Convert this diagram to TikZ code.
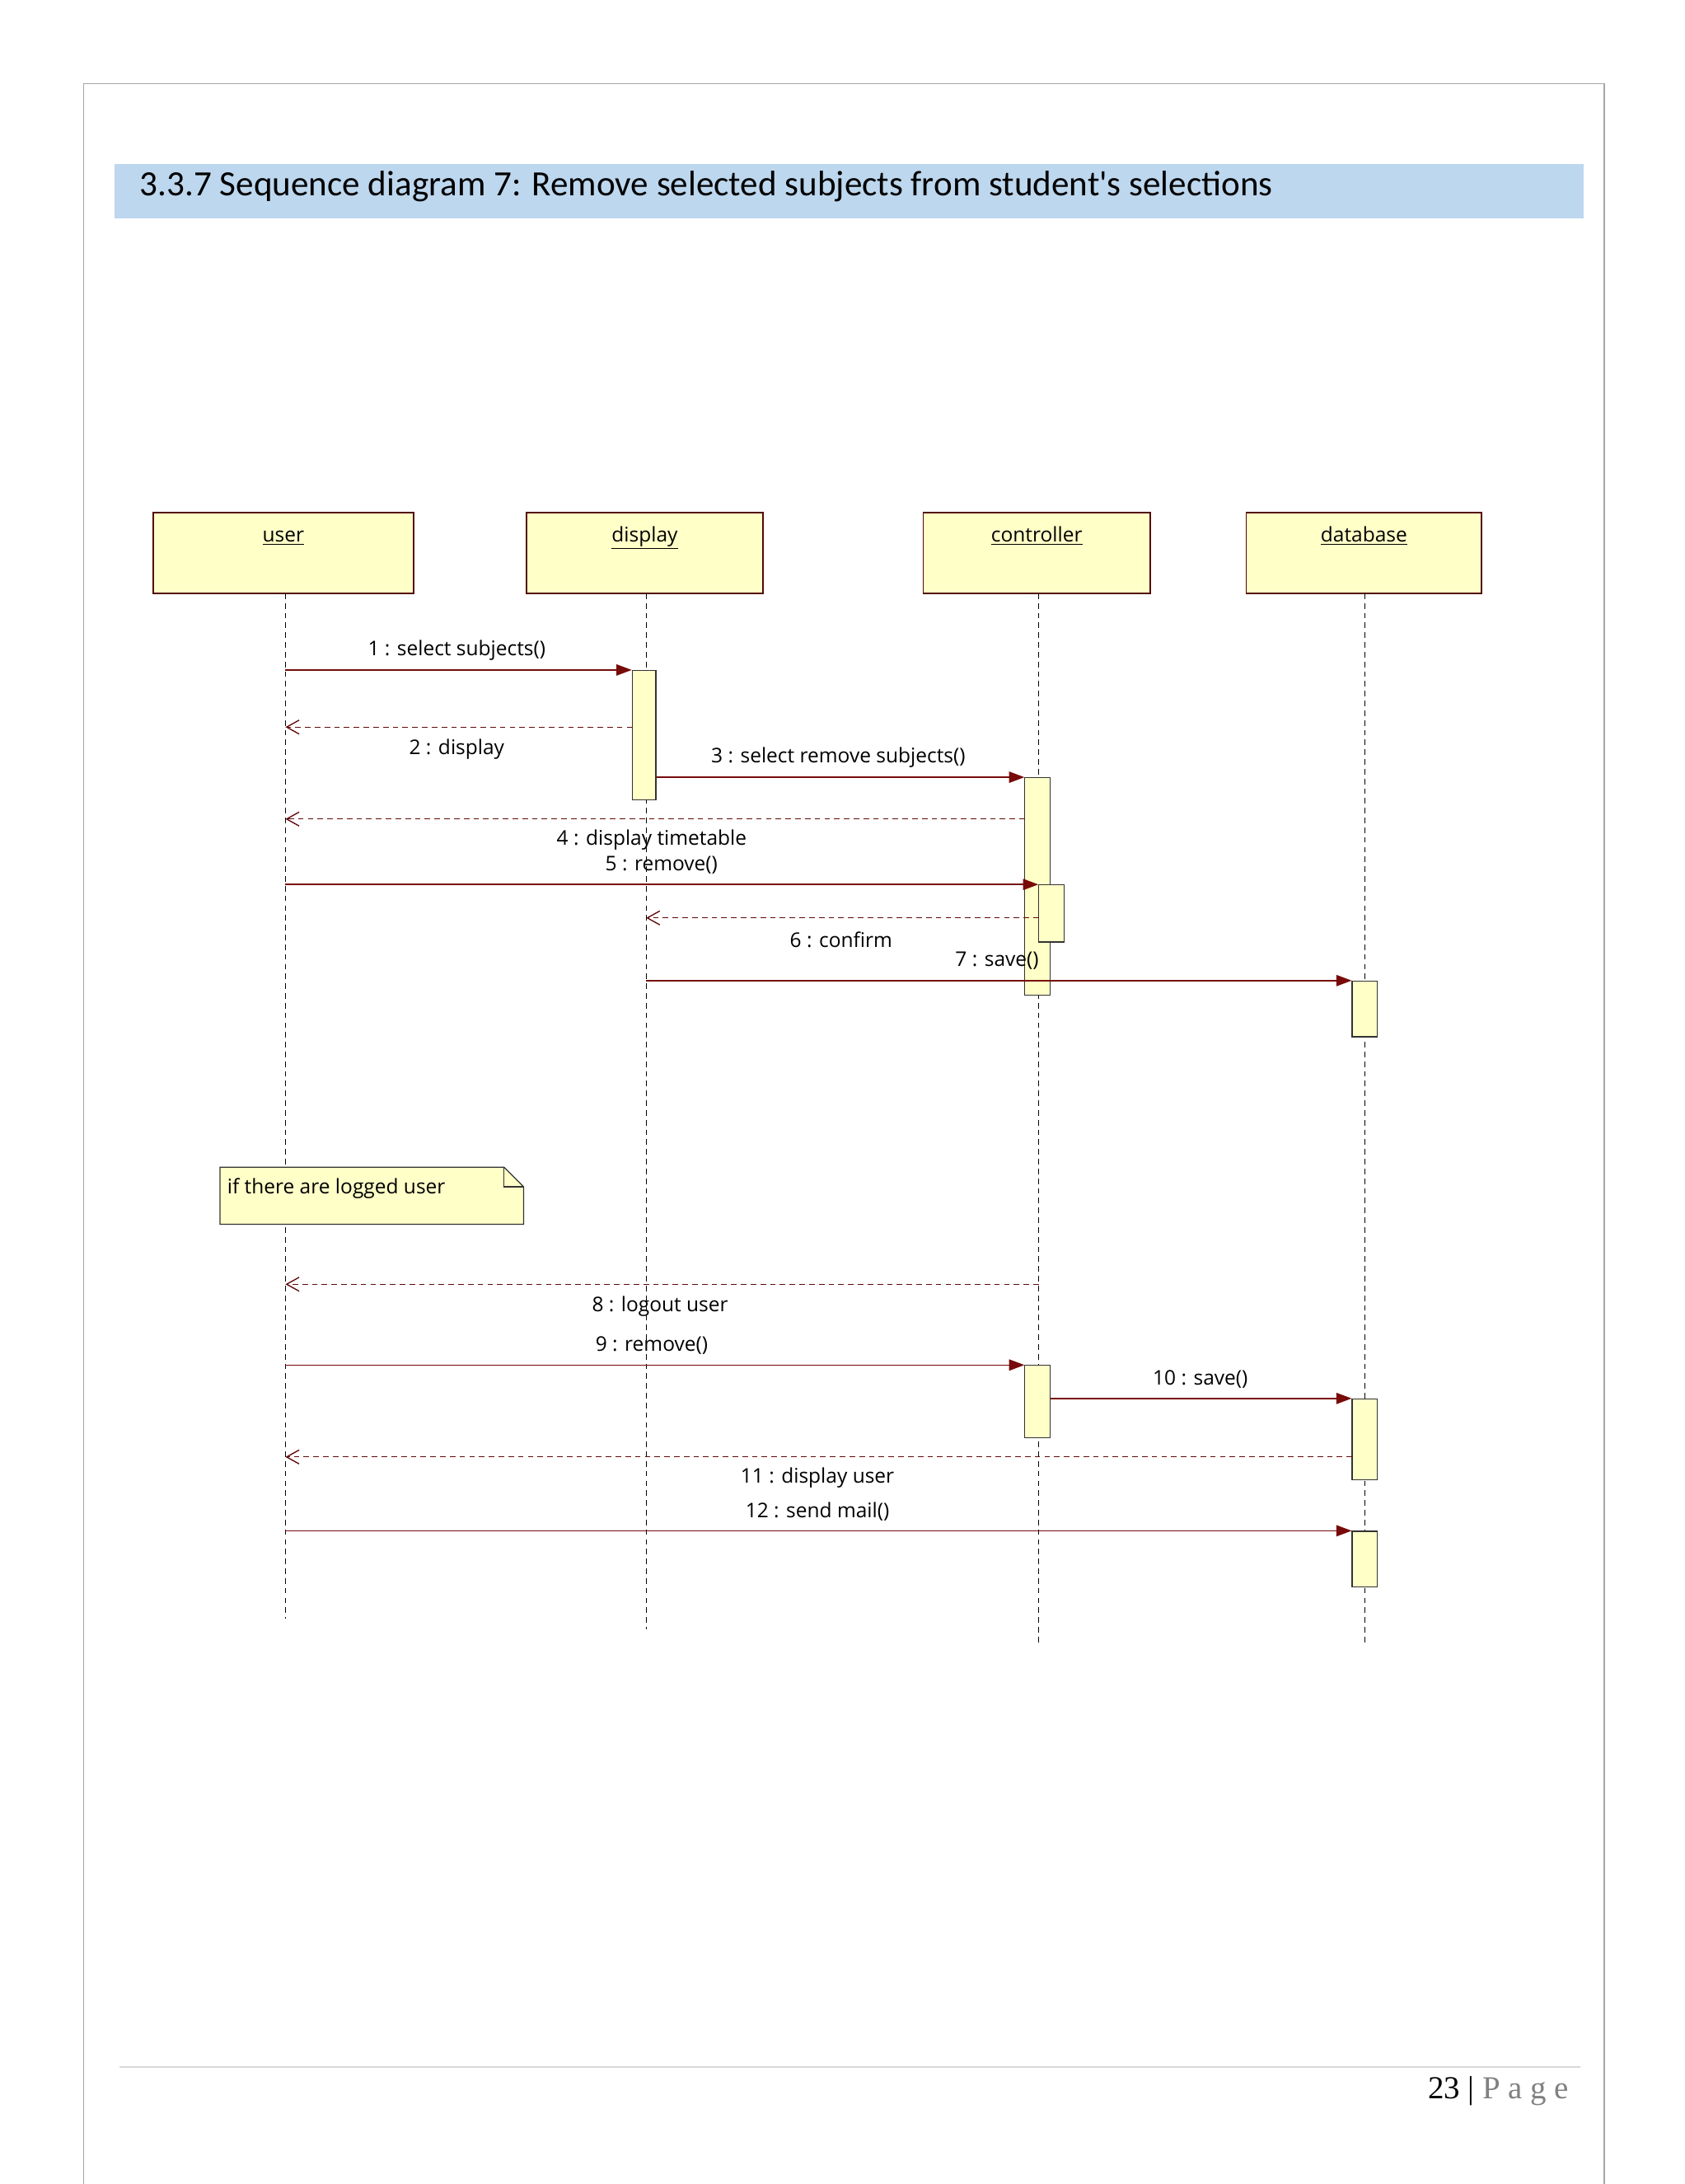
\documentclass[tikz,border=0pt]{standalone}
\usepackage{fontspec}
\setmainfont{Open Sans}
\newfontfamily\hdfont{Carlito}
\newfontfamily\pgfont{Liberation Serif}
\usetikzlibrary{arrows.meta,shapes.misc}
\definecolor{msg}{RGB}{120,10,10}
\definecolor{boxfill}{RGB}{255,255,200}
\definecolor{hdr}{RGB}{189,215,238}
\tikzset{
  obj/.style={draw=msg!70!black,fill=boxfill,line width=0.9pt},
  act/.style={draw=black!80,fill=boxfill,line width=0.7pt},
  life/.style={dashed,line width=0.8pt,dash pattern=on 4pt off 3pt},
  call/.style={draw=msg,line width=0.9pt,-{Triangle[length=11pt,width=8pt,fill=msg]}},
  ret/.style={draw=msg!80!black,line width=0.8pt,dash pattern=on 4pt off 3pt,-{Straight Barb[length=9pt,width=10pt,line width=0.8pt]}},
  lbl/.style={font=\fontsize{14.5}{16}\selectfont,inner sep=1pt}
}
\begin{document}
\begin{tikzpicture}[x=1pt,y=-1pt]
\useasboundingbox (0,0) rectangle (1210,1568);
\fill[white] (0,0) rectangle (1210,1568);
\draw[black!35,line width=0.8pt] (60,1568) -- (60,60) -- (1152,60) -- (1152,1568);
\fill[hdr] (82,118) rectangle (1137,157);
\node[anchor=west,font=\hdfont\fontsize{25.5}{28}\selectfont] (title) at (97,134) {3.3.7 Sequence diagram 7: Remove selected subjects from student's selections};
% objects
\foreach \n/\a/\b/\t in {user/110/297/user,display/378/548/display,controller/663/826/controller,database/895/1064/database}{
  \draw[obj] (\a,368) rectangle (\b,426);
  \node[lbl,anchor=base] (\n) at ({(\a+\b)/2},389) {\underline{\t}};
}
% lifelines
\draw[life] (205,426) -- (205,1162);
\draw[life] (464,426) -- (464,1170);
\draw[life] (746,426) -- (746,1180);
\draw[life] (980,426) -- (980,1180);
% activations
\node[act,minimum width=17pt,minimum height=93pt,inner sep=0,anchor=north] (a1) at (462.5,481) {};
\node[act,minimum width=18pt,minimum height=156pt,inner sep=0,anchor=north] (a2) at (745,558) {};
\node[act,minimum width=18pt,minimum height=41pt,inner sep=0,anchor=north] (a3) at (755,635) {};
\node[act,minimum width=18pt,minimum height=40pt,inner sep=0,anchor=north] (a4) at (980,704) {};
\node[act,minimum width=18pt,minimum height=52pt,inner sep=0,anchor=north] (a5) at (745,980) {};
\node[act,minimum width=18pt,minimum height=58pt,inner sep=0,anchor=north] (a6) at (980,1004) {};
\node[act,minimum width=18pt,minimum height=40pt,inner sep=0,anchor=north] (a7) at (980,1099) {};
% messages
\coordinate (u1) at (205,481); \draw[call] (u1) -- (a1.north west);
\node[lbl] (m1) at (328,467) {1 : select subjects()};
\coordinate (u2) at (205,522); \draw[ret] (454,522) -- (u2);
\node[lbl] (m2) at (328,538) {2 : display};
\draw[call] (a1.east |- 0,558) -- (a2.north west);
\node[lbl] (m3) at (602,544) {3 : select remove subjects()};
\coordinate (u4) at (205,588); \draw[ret] (736,588) -- (u4);
\node[lbl] (m4) at (468,603) {4 : display timetable};
\coordinate (u5) at (205,635); \draw[call] (u5) -- (a3.north west);
\node[lbl] (m5) at (475,621) {5 : remove()};
\coordinate (d6) at (464,659); \draw[ret] (746,659) -- (d6);
\node[lbl] (m6) at (604,675) {6 : confirm};
\coordinate (d7) at (464,704); \draw[call] (d7) -- (a4.north west);
\node[lbl] (m7) at (716,690) {7 : save()};
% note
\draw[obj,draw=black!80,line width=0.7pt] (158,838) -- (362,838) -- (376,852) -- (376,879) -- (158,879) -- cycle;
\draw[black!80,line width=0.7pt] (362,838) -- (362,852) -- (376,852);
\node[lbl,anchor=west] (note) at (162,853) {if there are logged user};
\coordinate (u8) at (205,922); \draw[ret] (746,922) -- (u8);
\node[lbl] (m8) at (474,938) {8 : logout user};
\coordinate (u9) at (205,980); \draw[call] (u9) -- (a5.north west);
\node[lbl] (m9) at (468,966) {9 : remove()};
\draw[call] (a5.east |- 0,1004) -- (a6.north west);
\node[lbl] (m10) at (862,990) {10 : save()};
\coordinate (u11) at (205,1046); \draw[ret] (971,1046) -- (u11);
\node[lbl] (m11) at (587,1061) {11 : display user};
\coordinate (u12) at (205,1099); \draw[call] (u12) -- (a7.north west);
\node[lbl] (m12) at (587,1085) {12 : send mail()};
% footer
\draw[black!15,line width=0.7pt] (86,1484) -- (1135,1484);
\node[anchor=east,font=\pgfont\fontsize{23}{26}\selectfont] (pg) at (1130,1501) {23 | \textcolor{black!50}{P a g e}};
\end{tikzpicture}
\end{document}
